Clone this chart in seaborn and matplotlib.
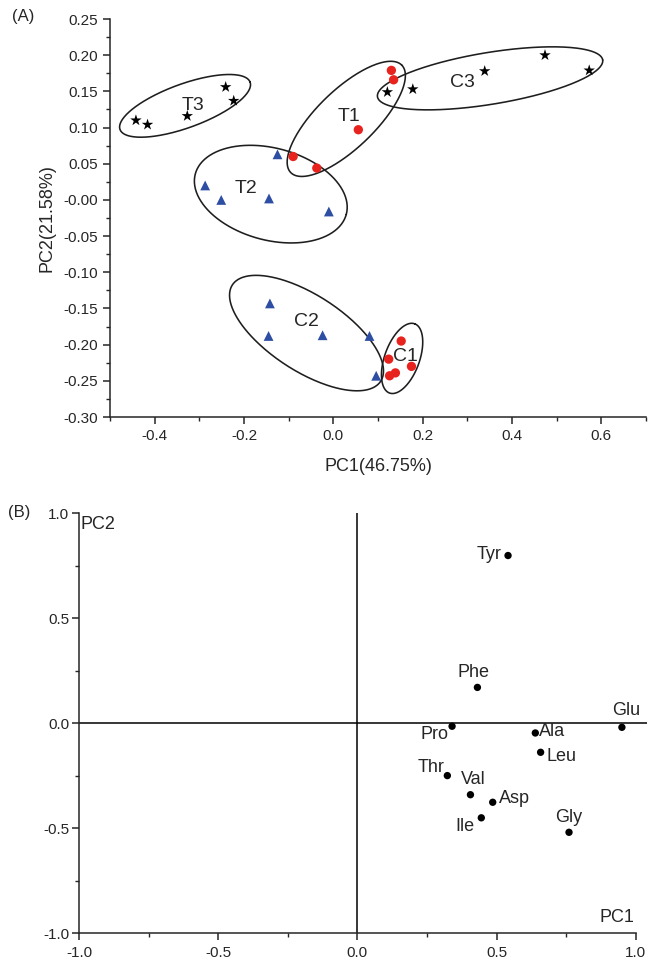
import matplotlib
matplotlib.use('Agg')
import matplotlib.pyplot as plt
import seaborn as sns
import numpy as np
import pandas as pd
from matplotlib.ticker import MultipleLocator

# ---- panel A: PCA scores ----
t3_x = [-0.442, -0.416, -0.327, -0.241, -0.223]
t3_y = [0.110, 0.104, 0.116, 0.156, 0.137]
c3_x = [0.121, 0.178, 0.339, 0.474, 0.573]
c3_y = [0.149, 0.153, 0.178, 0.200, 0.179]
t2_x = [-0.287, -0.251, -0.144, -0.125, -0.010]
t2_y = [0.020, 0.000, 0.002, 0.063, -0.016]
c2_x = [-0.142, -0.145, -0.024, 0.081, 0.096]
c2_y = [-0.143, -0.188, -0.187, -0.188, -0.243]
t1_x = [-0.090, -0.037, 0.056, 0.130, 0.135]
t1_y = [0.060, 0.044, 0.097, 0.179, 0.166]
c1_x = [0.152, 0.124, 0.175, 0.126, 0.139]
c1_y = [-0.195, -0.220, -0.230, -0.243, -0.239]

# group labels and their positions
group_names = ['T3', 'T2', 'T1', 'C3', 'C2', 'C1']
label_x = [-0.315, -0.195, 0.034, 0.289, -0.060, 0.161]
label_y = [0.131, 0.016, 0.115, 0.162, -0.168, -0.217]

# ellipses: centre x, centre y, semi-major, semi-minor (in PC1 units), angle (deg)
ell_cx = [-0.332, -0.140, 0.029, 0.351, -0.060, 0.154]
ell_cy = [0.130, 0.008, 0.112, 0.168, -0.184, -0.219]
ell_a = [0.155, 0.175, 0.173, 0.2555, 0.198, 0.0825]
ell_b = [0.049, 0.103, 0.065, 0.058, 0.085, 0.039]
ell_ang = [20, -15, 44, 9.3, -33, 70]

# ---- panel B: loadings ----
amino = ['Tyr', 'Phe', 'Pro', 'Glu', 'Ala', 'Leu', 'Thr', 'Val', 'Asp', 'Ile', 'Gly']
load_pc1 = [0.541, 0.431, 0.340, 0.950, 0.639, 0.658, 0.323, 0.406, 0.486, 0.445, 0.760]
load_pc2 = [0.799, 0.171, -0.014, -0.019, -0.046, -0.138, -0.249, -0.340, -0.376, -0.450, -0.519]
# label offsets in points (dx, dy)
lab_dx = [-14, -3, -13, 3, 12, 15, -12, 2, 16, -12, 0]
lab_dy = [1, 11, -6, 12, 1, -3, 6, 11, 3, -6, 11]

sns.set_style('ticks')
plt.rcParams['font.family'] = ['Liberation Sans', 'DejaVu Sans']
plt.rcParams['axes.linewidth'] = 1.1
plt.rcParams['xtick.major.width'] = 1.1
plt.rcParams['ytick.major.width'] = 1.1
plt.rcParams['xtick.minor.width'] = 1.0
plt.rcParams['ytick.minor.width'] = 1.0
plt.rcParams['xtick.major.size'] = 5
plt.rcParams['ytick.major.size'] = 5
plt.rcParams['xtick.minor.size'] = 3
plt.rcParams['ytick.minor.size'] = 3

red = '#e8231d'
blue = '#2d4ea3'

fig = plt.figure(figsize=(6.48, 9.6), dpi=100)
axA = fig.add_axes([0.1698, 0.5656, 0.827, 0.4146])

groups = [
    (t3_x, t3_y, '*', 'black', 75),
    (c3_x, c3_y, '*', 'black', 75),
    (t2_x, t2_y, '^', blue, 50),
    (c2_x, c2_y, '^', blue, 50),
    (t1_x, t1_y, 'o', red, 45),
    (c1_x, c1_y, 'o', red, 45),
]
for gx, gy, mk, col, sz in groups:
    df = pd.DataFrame({'pc1': gx, 'pc2': gy})
    sns.scatterplot(data=df, x='pc1', y='pc2', marker=mk, color=col, s=sz,
                    edgecolor='none', ax=axA, zorder=3)

axA.set_xlim(-0.5, 0.7)
axA.set_ylim(-0.30, 0.25)


def draw_ellipse(ax, cx, cy, a, b, ang):
    # keep the ellipse round in screen space
    bb = ax.get_position()
    fw, fh = fig.get_size_inches() * fig.dpi
    x0, x1 = ax.get_xlim()
    y0, y1 = ax.get_ylim()
    k = (bb.height * fh / (y1 - y0)) / (bb.width * fw / (x1 - x0))
    t = np.linspace(0, 2 * np.pi, 300)
    th = np.deg2rad(ang)
    ex = cx + a * np.cos(t) * np.cos(th) - b * np.sin(t) * np.sin(th)
    ey = cy + (a * np.cos(t) * np.sin(th) + b * np.sin(t) * np.cos(th)) / k
    ax.plot(ex, ey, color='#1e1e1e', lw=1.15, zorder=2)


for i in range(len(ell_cx)):
    draw_ellipse(axA, ell_cx[i], ell_cy[i], ell_a[i], ell_b[i], ell_ang[i])

for name, lx, ly in zip(group_names, label_x, label_y):
    axA.text(lx, ly, name, fontsize=14, ha='center', va='center', zorder=4)

axA.xaxis.set_major_locator(MultipleLocator(0.2))
axA.xaxis.set_minor_locator(MultipleLocator(0.1))
axA.yaxis.set_major_locator(MultipleLocator(0.05))
axA.yaxis.set_minor_locator(MultipleLocator(0.025))
axA.set_xticks([-0.4, -0.2, 0.0, 0.2, 0.4, 0.6])
axA.set_xticklabels(['-0.4', '-0.2', '0.0', '0.2', '0.4', '0.6'])
yt = np.round(np.arange(-0.30, 0.2501, 0.05), 2)
axA.set_yticks(yt)
axA.set_yticklabels(['%.2f' % v for v in yt])
axA.tick_params(labelsize=11)
axA.set_xlabel('PC1(46.75%)', fontsize=13, labelpad=11)
axA.set_ylabel('PC2(21.58%)', fontsize=13, labelpad=6)
sns.despine(ax=axA)

# ---- panel B ----
axB = fig.add_axes([0.1219, 0.0278, 0.8765, 0.4375])
dfb = pd.DataFrame({'pc1': load_pc1, 'pc2': load_pc2, 'aa': amino})
sns.scatterplot(data=dfb, x='pc1', y='pc2', color='black', s=28,
                edgecolor='none', ax=axB, zorder=3)
axB.set_xlim(-1.0, 1.04)
axB.set_ylim(-1.0, 1.0)
axB.axhline(0, color='black', lw=1.1, zorder=1)
axB.axvline(0, color='black', lw=1.1, zorder=1)
for name, px, py, dx, dy in zip(amino, load_pc1, load_pc2, lab_dx, lab_dy):
    axB.annotate(name, (px, py), xytext=(dx, dy), textcoords='offset points',
                 ha='center', va='center', fontsize=13, zorder=4)
axB.xaxis.set_major_locator(MultipleLocator(0.5))
axB.xaxis.set_minor_locator(MultipleLocator(0.25))
axB.yaxis.set_major_locator(MultipleLocator(0.5))
axB.yaxis.set_minor_locator(MultipleLocator(0.25))
axB.set_xticks([-1.0, -0.5, 0.0, 0.5, 1.0])
axB.set_xticklabels(['-1.0', '-0.5', '0.0', '0.5', '1.0'])
axB.set_yticks([-1.0, -0.5, 0.0, 0.5, 1.0])
axB.set_yticklabels(['-1.0', '-0.5', '0.0', '0.5', '1.0'])
axB.tick_params(labelsize=11, pad=2)
axB.tick_params(axis='x', pad=4)
axB.set_xlabel('')
axB.set_ylabel('')
sns.despine(ax=axB)
axB.spines['bottom'].set_bounds(-1.0, 1.0)
axB.text(0.003, 0.974, 'PC2', transform=axB.transAxes, fontsize=13,
         ha='left', va='center')
axB.text(0.977, 0.038, 'PC1', transform=axB.transAxes, fontsize=13,
         ha='right', va='center')

fig.text(12 / 648, 1 - 17 / 960, '(A)', fontsize=12, ha='left', va='center')
fig.text(8 / 648, 1 - 513 / 960, '(B)', fontsize=12, ha='left', va='center')

fig.savefig('out.png', dpi=100)
